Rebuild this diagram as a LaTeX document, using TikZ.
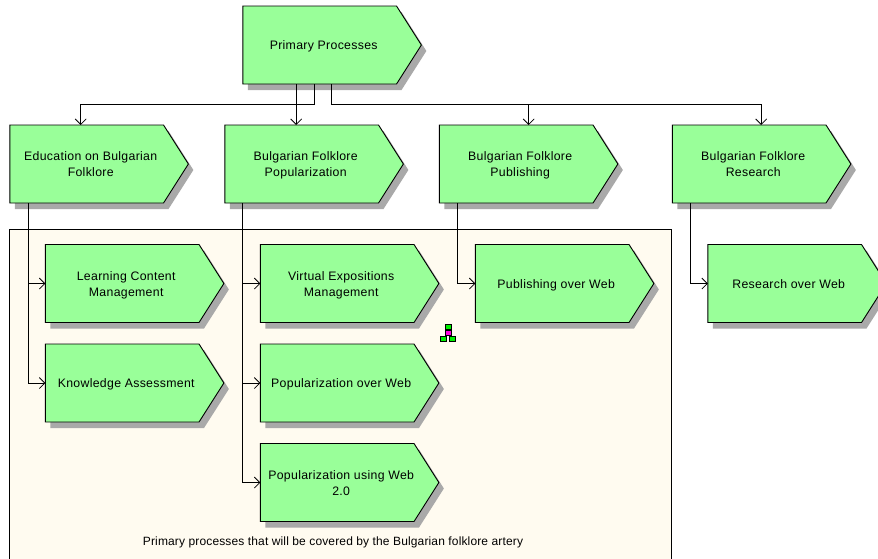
\documentclass[tikz,border=0pt]{standalone}
\usepackage{fontspec}
\setmainfont{Liberation Sans}
\usetikzlibrary{shapes.symbols,shadows,arrows.meta}
\definecolor{procgreen}{HTML}{99FF99}
\definecolor{panelfill}{HTML}{FFFBF0}
\definecolor{shadowgray}{HTML}{A9A9A9}
\definecolor{iconmag}{HTML}{FF00E0}
\definecolor{icongreen}{HTML}{00EE00}
\newcommand\ptext[1]{\makebox[60pt][c]{\hspace*{8pt}\begin{tabular}{@{}c@{}}\rule{0pt}{14pt}#1\end{tabular}}}
\tikzset{
  x=1pt,y=-1pt,
  procbox/.style={shape=signal,signal to=east,signal from=nowhere,signal pointer angle=115,
    draw=black,line width=0.9pt,fill=procgreen,inner sep=0pt,outer sep=0pt,
    minimum width=178.5pt,minimum height=78pt,xshift=-0.3pt,
    font=\fontsize{12.3}{16}\selectfont\addfontfeature{LetterSpace=2.5},
    copy shadow={draw=none,fill=shadowgray,opacity=1,shadow xshift=5pt,shadow yshift=-6pt}},
  link/.style={draw=black,line width=0.8pt},
  arrowlink/.style={link,-{Straight Barb[length=5.5pt,width=11pt]}},
  iconpart/.style={draw=black,line width=0.6pt,minimum width=6pt,minimum height=5pt,inner sep=0pt}
}
\begin{document}
\begin{tikzpicture}
\useasboundingbox (0,0) rectangle (878,558);
\clip (0,0) rectangle (878,558);
\fill[white] (0,0) rectangle (878,558);
\draw[fill=panelfill,line width=0.9pt] (9,229) rectangle (671,575);
\node[font=\fontsize{12}{14}\selectfont\addfontfeature{LetterSpace=1.2}] (panellabel) at (333,542) {Primary processes that will be covered by the Bulgarian folklore artery};

\node[procbox] (top) at (320,45) {\ptext{Primary Processes}};
\node[procbox] (edu) at (87,164) {\ptext{Education on Bulgarian\\Folklore}};
\node[procbox] (pop) at (302,164) {\ptext{Bulgarian Folklore\\Popularization}};
\node[procbox] (pub) at (516.5,164) {\ptext{Bulgarian Folklore\\Publishing}};
\node[procbox] (res) at (749.5,164) {\ptext{Bulgarian Folklore\\Research}};
\node[procbox] (lcm) at (122.5,283.5) {\ptext{Learning Content\\Management}};
\node[procbox] (ka) at (122.5,383) {\ptext{Knowledge Assessment}};
\node[procbox] (vem) at (337.5,283.5) {\ptext{Virtual Expositions\\Management}};
\node[procbox] (pow) at (337.5,383) {\ptext{Popularization over Web}};
\node[procbox] (puw) at (337.5,482.5) {\ptext{Popularization using Web\\2.0}};
\node[procbox] (pubw) at (552.5,283.5) {\ptext{Publishing over Web}};
\node[procbox] (resw) at (785,283.5) {\ptext{Research over Web}};

\coordinate (busl) at ([xshift=-5.5pt]top.south);
\coordinate (busr) at ([xshift=11.5pt]top.south);
\draw[arrowlink] (busl) |- (200,104.5) -| ([xshift=-6pt]edu.north);
\draw[arrowlink] ([xshift=-23.5pt]top.south) -- ([xshift=-5.5pt]pop.north);
\draw[arrowlink] (busr) |- (400,104.5) -| ([xshift=12.5pt]pub.north);
\draw[arrowlink] (busr) |- (400,104.5) -| ([xshift=12pt]res.north);

\draw[arrowlink] ([xshift=-58.5pt]edu.south) |- (lcm.west);
\draw[arrowlink] ([xshift=-58.5pt]edu.south) |- (ka.west);
\draw[arrowlink] ([xshift=-59pt]pop.south) |- (vem.west);
\draw[arrowlink] ([xshift=-59pt]pop.south) |- (pow.west);
\draw[arrowlink] ([xshift=-59pt]pop.south) |- (puw.west);
\draw[arrowlink] ([xshift=-58.7pt]pub.south) |- (pubw.west);
\draw[arrowlink] ([xshift=-59pt]res.south) |- (resw.west);

\node[iconpart,fill=icongreen] (icont) at (448,327) {};
\node[iconpart,fill=iconmag] (iconm) at (448,333) {};
\node[iconpart,fill=icongreen] (iconl) at (443.5,338.5) {};
\node[iconpart,fill=icongreen] (iconr) at (452.5,338.5) {};
\end{tikzpicture}
\end{document}
